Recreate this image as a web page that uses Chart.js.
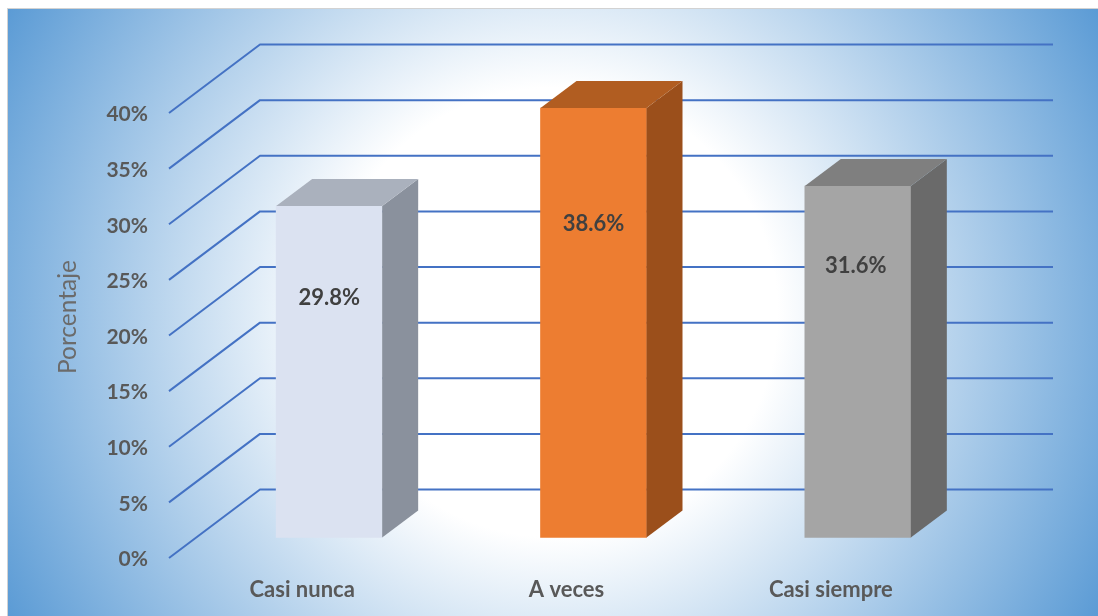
<!DOCTYPE html>
<html lang="es">
<head>
<meta charset="utf-8">
<title>Porcentaje por frecuencia</title>
<style>
  html, body { margin: 0; padding: 0; background: #fff; }
  canvas { display: block; }
</style>
<script src="https://cdn.jsdelivr.net/npm/chart.js@4"></script>
</head>
<body>
<canvas id="chart" width="1098" height="616"></canvas>
<script>
const categories = ['Casi nunca', 'A veces', 'Casi siempre'];
const percentages = [29.8, 38.6, 31.6];
const frontColors = ['#DBE2F1', '#ED7D31', '#A5A5A5'];
const sideColors = ['#8A919D', '#9B4F1B', '#6A6A6A'];
const topColors = ['#AAB1BD', '#B15D21', '#7F7F7F'];
const labelHeights = [0.725, 0.732, 0.775];

const GRID_COLOR = '#4472C4';
const WALL = { dx: 91, dy: -68.5 };   // depth of the floor, front edge to back wall
const BAR_SHIFT = { dx: 28, dy: -20.5 }; // bars stand part-way across the floor
const BAR_DEPTH = { dx: 36, dy: -27 };

const panelBackground = {
  id: 'panelBackground',
  beforeDraw(chart) {
    const { ctx, width, height } = chart;
    const left = 8, top = 9;
    ctx.save();
    ctx.fillStyle = '#fff';
    ctx.fillRect(0, 0, width, height);
    ctx.fillStyle = '#D2D2D2';
    ctx.fillRect(left - 1, top - 1, width, height);
    const cx = (left + width) / 2, cy = (top + height) / 2;
    const radius = Math.hypot(width - cx, height - cy);
    const fill = ctx.createRadialGradient(cx, cy, 0, cx, cy, radius);
    fill.addColorStop(0.36, '#FFFFFF');
    fill.addColorStop(1, '#5B9BD5');
    ctx.fillStyle = fill;
    ctx.fillRect(left, top, width - left, height - top);
    ctx.restore();
  }
};

// Side wall and back wall lines of the three-dimensional plot box.
const wallGrid = {
  id: 'wallGrid',
  beforeDatasetsDraw(chart) {
    const { ctx, chartArea, scales } = chart;
    ctx.save();
    ctx.strokeStyle = GRID_COLOR;
    ctx.lineJoin = 'round';
    ctx.lineWidth = 2;
    scales.y.ticks.forEach(tick => {
      const y = scales.y.getPixelForValue(tick.value);
      ctx.beginPath();
      ctx.moveTo(chartArea.left, y);
      ctx.lineTo(chartArea.left + WALL.dx, y + WALL.dy);
      ctx.lineTo(chartArea.right + WALL.dx, y + WALL.dy);
      ctx.stroke();
    });
    ctx.restore();
  }
};

// Shifts the flat bars onto the floor, then adds the side and top faces and the value labels.
const extrudedBars = {
  id: 'extrudedBars',
  beforeDatasetDraw(chart) {
    chart.ctx.save();
    chart.ctx.translate(BAR_SHIFT.dx, BAR_SHIFT.dy);
  },
  afterDatasetDraw(chart, args) {
    const { ctx } = chart;
    const bars = args.meta.data;
    bars.forEach((bar, i) => {
      const { x, y, base, width } = bar.getProps(['x', 'y', 'base', 'width'], true);
      const l = x - width / 2, r = x + width / 2;
      const { dx, dy } = BAR_DEPTH;
      ctx.fillStyle = sideColors[i];
      ctx.beginPath();
      ctx.moveTo(r, y);
      ctx.lineTo(r + dx, y + dy);
      ctx.lineTo(r + dx, base + dy);
      ctx.lineTo(r, base);
      ctx.closePath();
      ctx.fill();
      ctx.fillStyle = topColors[i];
      ctx.beginPath();
      ctx.moveTo(l, y);
      ctx.lineTo(l + dx, y + dy);
      ctx.lineTo(r + dx, y + dy);
      ctx.lineTo(r, y);
      ctx.closePath();
      ctx.fill();
      ctx.fillStyle = '#404040';
      ctx.font = 'bold 22px Lato, sans-serif';
      ctx.textAlign = 'center';
      ctx.textBaseline = 'middle';
      ctx.fillText(percentages[i].toFixed(1) + '%', x - (i === 2 ? 2 : 0), base - (base - y) * labelHeights[i] + 1);
    });
    ctx.restore();
  }
};

new Chart(document.getElementById('chart'), {
  type: 'bar',
  data: {
    labels: categories,
    datasets: [{
      label: 'Porcentaje',
      data: percentages,
      backgroundColor: frontColors,
      barThickness: 106,
      clip: false
    }]
  },
  plugins: [panelBackground, wallGrid, extrudedBars],
  options: {
    responsive: false,
    animation: false,
    layout: { padding: { left: 53, right: 136, top: 76, bottom: 0 } },
    plugins: { legend: { display: false }, tooltip: { enabled: false } },
    scales: {
      x: {
        offset: true,
        grid: { display: false, drawTicks: false },
        border: { display: false },
        afterFit(scale) { scale.height = 58; },
        ticks: {
          padding: 19,
          labelOffset: 1,
          maxRotation: 0,
          autoSkip: false,
          color: '#595959',
          font: { family: 'Lato, sans-serif', size: 22, weight: 'bold' }
        }
      },
      y: {
        min: 0,
        max: 43.33,
        grid: { display: false, drawTicks: false },
        border: { display: false },
        afterFit(scale) { scale.width = 116; },
        title: {
          display: true,
          text: 'Porcentaje',
          color: '#6B6B6B',
          padding: 0,
          font: { family: 'Lato, sans-serif', size: 24.5, weight: 'normal' }
        },
        ticks: {
          stepSize: 5,
          includeBounds: false,
          padding: 21,
          labelOffset: 1.5,
          color: '#595959',
          font: { family: 'Lato, sans-serif', size: 21, weight: 'bold' },
          callback: value => value + '%'
        }
      }
    }
  }
});
</script>
</body>
</html>
